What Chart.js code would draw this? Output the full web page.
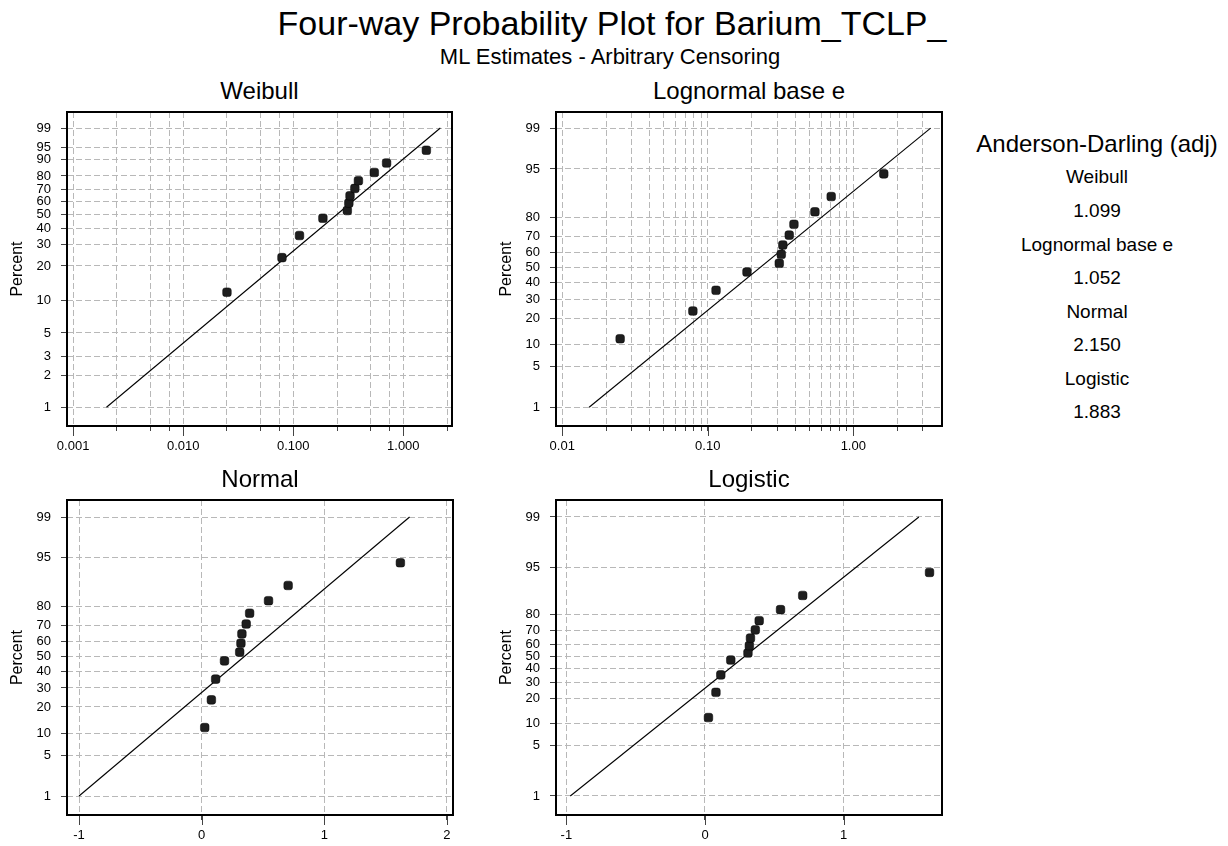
<!DOCTYPE html>
<html>
<head>
<meta charset="utf-8">
<script src="https://cdn.jsdelivr.net/npm/chart.js@4.4.0/dist/chart.umd.min.js"></script>
<style>
body { margin: 0; background: #fff; font-family: "Liberation Sans", Arial, sans-serif; }
#page { position: relative; width: 1228px; height: 846px; overflow: hidden; }
.t { position: absolute; white-space: nowrap; line-height: 1; color: #000; transform: translateX(-50%); }
canvas { position: absolute; }
</style>
</head>
<body>
<div id="page"></div>
<script>
// Barium_TCLP_ observations and their plotting positions (percent)
const barium = [0.025, 0.079, 0.114, 0.186, 0.310, 0.320, 0.328, 0.363, 0.391, 0.545, 0.705, 1.620]
const percent = [11.8, 23.5, 35.3, 47.1, 52.9, 58.8, 64.7, 70.6, 76.5, 82.4, 88.2, 94.1]

// fitted ML lines, x at 1% and 99%
const fitPct = [1, 99]
const weibullFitX = [0.00201, 2.17]
const lognormalFitX = [0.0153, 3.40]
const normalFitX = [-1.0, 1.695]
const logisticFitX = [-0.972, 1.543]

// y tick labels
const weibullPctTicks = [1, 2, 3, 5, 10, 20, 30, 40, 50, 60, 70, 80, 90, 95, 99]
const probPctTicks = [1, 5, 10, 20, 30, 40, 50, 60, 70, 80, 95, 99]

// x grid values and labelled ticks
const weibullXGrid = [0.001, 0.0025, 0.005, 0.0075, 0.01, 0.025, 0.05, 0.075, 0.1, 0.25, 0.5, 0.75, 1, 2.5]
const weibullXLabels = { 0.001: '0.001', 0.01: '0.010', 0.1: '0.100', 1: '1.000' }
const lognormalXGrid = [0.01, 0.02, 0.03, 0.04, 0.05, 0.06, 0.07, 0.08, 0.09,
    0.1, 0.2, 0.3, 0.4, 0.5, 0.6, 0.7, 0.8, 0.9, 1, 2, 3]
const lognormalXLabels = { 0.01: '0.01', 0.1: '0.10', 1: '1.00' }
const normalXGrid = [-1, 0, 1, 2]
const logisticXGrid = [-1, 0, 1]

// goodness of fit
const adNames = ['Weibull', 'Lognormal base e', 'Normal', 'Logistic']
const adValues = [1.099, 1.052, 2.150, 1.883]

// inverse standard normal cdf (Acklam)
function probit(p) {
    const a = [-3.969683028665376e+01, 2.209460984245205e+02, -2.759285104469687e+02, 1.383577518672690e+02, -3.066479806614716e+01, 2.506628277459239e+00]
    const b = [-5.447609879822406e+01, 1.615858368580409e+02, -1.556989798598866e+02, 6.680131188771972e+01, -1.328068155288572e+01]
    const c = [-7.784894002430293e-03, -3.223964580411365e-01, -2.400758277161838e+00, -2.549732539343734e+00, 4.374664141464968e+00, 2.938163982698783e+00]
    const d = [7.784695709041462e-03, 3.224671290700398e-01, 2.445134137142996e+00, 3.754408661907416e+00]
    const pl = 0.02425
    let q, r
    if (p < pl) {
        q = Math.sqrt(-2 * Math.log(p))
        return (((((c[0]*q+c[1])*q+c[2])*q+c[3])*q+c[4])*q+c[5]) / ((((d[0]*q+d[1])*q+d[2])*q+d[3])*q+1)
    }
    if (p > 1 - pl) {
        q = Math.sqrt(-2 * Math.log(1 - p))
        return -(((((c[0]*q+c[1])*q+c[2])*q+c[3])*q+c[4])*q+c[5]) / ((((d[0]*q+d[1])*q+d[2])*q+d[3])*q+1)
    }
    q = p - 0.5
    r = q * q
    return (((((a[0]*r+a[1])*r+a[2])*r+a[3])*r+a[4])*r+a[5])*q / (((((b[0]*r+b[1])*r+b[2])*r+b[3])*r+b[4])*r+1)
}

const weibullY = p => Math.log(-Math.log(1 - p / 100))
const normalY = p => probit(p / 100)
const logisticY = p => Math.log(p / (100 - p))

const panels = [
    { title: 'Weibull', box: [67, 112, 452, 426], xType: 'logarithmic', xRange: [0.00088, 2.77],
      xGrid: weibullXGrid, xLabels: weibullXLabels, tf: weibullY, yRange: [-5.012, 1.879],
      yTicks: weibullPctTicks, fitX: weibullFitX },
    { title: 'Lognormal base e', box: [556, 112, 942, 426], xType: 'logarithmic', xRange: [0.00906, 4.07],
      xGrid: lognormalXGrid, xLabels: lognormalXLabels, tf: normalY, yRange: [-2.639, 2.594],
      yTicks: probPctTicks, fitX: lognormalFitX },
    { title: 'Normal', box: [67, 500, 453, 815], xType: 'linear', xRange: [-1.098, 2.049],
      xGrid: normalXGrid, xLabels: null, tf: normalY, yRange: [-2.643, 2.61],
      yTicks: probPctTicks, fitX: normalFitX },
    { title: 'Logistic', box: [556, 500, 942, 815], xType: 'linear', xRange: [-1.075, 1.71],
      xGrid: logisticXGrid, xLabels: null, tf: logisticY, yRange: [-5.221, 5.155],
      yTicks: probPctTicks, fitX: logisticFitX }
]

Chart.defaults.font.family = "'Liberation Sans', Arial, sans-serif"
Chart.defaults.color = '#000'

const page = document.getElementById('page')

function addText(text, cx, capCenter, size) {
    const el = document.createElement('div')
    el.className = 't'
    el.textContent = text
    el.style.fontSize = size + 'px'
    el.style.left = cx + 'px'
    el.style.top = (capCenter - 0.488 * size) + 'px'
    page.appendChild(el)
}

addText('Four-way Probability Plot for Barium_TCLP_', 612, 23, 34)
addText('ML Estimates - Arbitrary Censoring', 610, 57, 22)
addText('Anderson-Darling (adj)', 1097, 144, 24)
adNames.forEach((name, i) => {
    addText(name, 1097, 176.7 + i * 67.2, 19)
    addText(adValues[i].toFixed(3), 1097, 209.8 + i * 67.2, 19)
})

// frame round the plot area and longer marks at labelled x ticks
const framePlugin = {
    id: 'frame',
    afterDraw(chart, args, opts) {
        const { ctx, chartArea: a } = chart
        const x = chart.scales.x
        ctx.save()
        ctx.strokeStyle = '#444'
        ctx.lineWidth = 1
        opts.major.forEach(v => {
            const px = Math.round(x.getPixelForValue(v)) + 0.5
            ctx.beginPath()
            ctx.moveTo(px, a.bottom)
            ctx.lineTo(px, a.bottom + 10)
            ctx.stroke()
        })
        ctx.strokeStyle = '#000'
        ctx.lineWidth = 2
        ctx.strokeRect(a.left, a.top, a.right - a.left, a.bottom - a.top)
        ctx.restore()
    }
}

const padTop = 20, padRight = 20, yAxisW = 67, xAxisH = 45

panels.forEach(p => {
    const [l, t, r, b] = p.box
    addText(p.title, (l + r) / 2, t - 21, 24)

    const canvas = document.createElement('canvas')
    canvas.width = yAxisW + (r - l) + padRight
    canvas.height = padTop + (b - t) + xAxisH
    canvas.style.left = (l - yAxisW) + 'px'
    canvas.style.top = (t - padTop) + 'px'
    page.appendChild(canvas)

    const major = p.xLabels ? p.xGrid.filter(v => p.xLabels[v] !== undefined) : p.xGrid

    new Chart(canvas, {
        type: 'scatter',
        data: {
            datasets: [
                {
                    data: barium.map((v, i) => ({ x: v, y: p.tf(percent[i]) })),
                    pointStyle: 'rectRounded',
                    pointRadius: 5,
                    backgroundColor: '#1e1e1e',
                    borderColor: '#000',
                    borderWidth: 0.5
                },
                {
                    data: p.fitX.map((v, i) => ({ x: v, y: p.tf(fitPct[i]) })),
                    showLine: true,
                    pointRadius: 0,
                    borderColor: '#000',
                    borderWidth: 1.1
                }
            ]
        },
        options: {
            responsive: false,
            animation: false,
            layout: { padding: { left: 0, top: padTop, right: padRight, bottom: 0 } },
            plugins: {
                legend: { display: false },
                tooltip: { enabled: false },
                frame: { major: major }
            },
            scales: {
                x: {
                    type: p.xType,
                    bounds: 'data',
                    min: p.xRange[0],
                    max: p.xRange[1],
                    afterBuildTicks: s => { s.ticks = p.xGrid.map(v => ({ value: v })) },
                    afterFit: s => { s.height = xAxisH },
                    grid: { color: '#b8b8b8', lineWidth: 1, tickLength: 5, tickColor: '#444' },
                    border: { display: false, dash: [6, 3] },
                    ticks: {
                        autoSkip: false,
                        maxRotation: 0,
                        padding: 8,
                        font: { size: 13 },
                        callback: v => p.xLabels ? (p.xLabels[v] || '') : String(v)
                    }
                },
                y: {
                    type: 'linear',
                    bounds: 'data',
                    min: p.yRange[0],
                    max: p.yRange[1],
                    afterBuildTicks: s => { s.ticks = p.yTicks.map(v => ({ value: p.tf(v) })) },
                    afterFit: s => { s.width = yAxisW },
                    grid: { color: '#b8b8b8', lineWidth: 1, tickLength: 6, tickColor: '#444' },
                    border: { display: false, dash: [6, 3] },
                    title: { display: true, text: 'Percent', font: { size: 16 }, padding: { top: 8, bottom: 0 } },
                    ticks: {
                        autoSkip: false,
                        padding: 10,
                        font: { size: 13 },
                        callback: (v, i) => String(p.yTicks[i])
                    }
                }
            }
        },
        plugins: [framePlugin]
    })
})
</script>
</body>
</html>
